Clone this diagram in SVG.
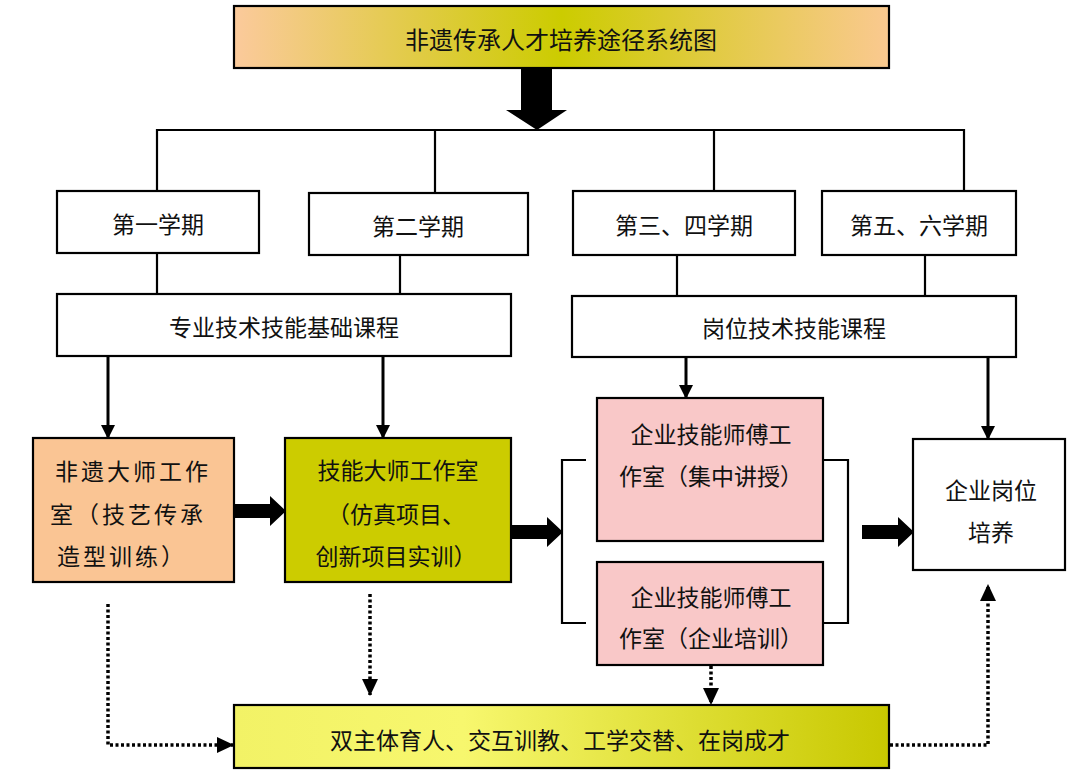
<svg xmlns="http://www.w3.org/2000/svg" width="1080" height="778" viewBox="0 0 1080 778">
<defs>
<linearGradient id="gTitle" x1="0" y1="0" x2="1" y2="0">
<stop offset="0" stop-color="#FBCA9C"/>
<stop offset="0.5" stop-color="#CCCC00"/>
<stop offset="1" stop-color="#FAC990"/>
</linearGradient>
<linearGradient id="gBottom" x1="0" y1="0" x2="1" y2="0">
<stop offset="0" stop-color="#F2F266"/>
<stop offset="0.35" stop-color="#F7F76E"/>
<stop offset="1" stop-color="#C8C800"/>
</linearGradient>
<marker id="ah" viewBox="0 0 14 14" refX="13" refY="7" markerWidth="14" markerHeight="14" markerUnits="userSpaceOnUse" orient="auto">
<path d="M0,0 L14,7 L0,14 z" fill="#000"/>
</marker>
<marker id="ahd" viewBox="0 0 17 16" refX="16" refY="8" markerWidth="17" markerHeight="16" markerUnits="userSpaceOnUse" orient="auto">
<path d="M0,0 L17,8 L0,16 z" fill="#000"/>
</marker>
</defs>
<style>
.box{stroke:#000;stroke-width:2.2}
.w{fill:#fff}
.peach{fill:#FAC594}
.olive{fill:#CCCC00}
.pink{fill:#F9C8C8}
.t{font-family:"Noto Sans CJK SC","Noto Sans",sans-serif;font-size:23px;fill:#111;text-anchor:middle;dominant-baseline:central}
.ln{fill:none;stroke:#000;stroke-width:2.2}
.arr{fill:none;stroke:#000;stroke-width:3;marker-end:url(#ah)}
.dot{fill:none;stroke:#000;stroke-width:3.5;stroke-dasharray:3 2.5;marker-end:url(#ahd)}
.big{fill:#000}
</style>
<rect width="1080" height="778" fill="#fff"/>

<g id="connectors">
<path class="ln" d="M157,191 V130 H964 V191 M435,130 V193 M714,130 V191"/>
<polygon class="big" points="521,68 552,68 552,110 567,110 537,130 506,110 521,110"/>
<path class="ln" d="M157,253 V296 M400,255 V296 M677,255 V296 M925,255 V296"/>
<path class="arr" d="M108,356 V438"/>
<path class="arr" d="M383,356 V438"/>
<path class="arr" d="M686,357 V398"/>
<path class="arr" d="M988,357 V439"/>
<polygon class="big" points="234,504 270,504 270,496 286,511 270,526 270,518 234,518"/>
<polygon class="big" points="511,525 547,525 547,517 563,532 547,547 547,539 511,539"/>
<polygon class="big" points="862,525 898,525 898,517 914,532 898,547 898,539 862,539"/>
<path class="ln" d="M586,460 H562 V623 H586"/>
<path class="ln" d="M823,460 H848 V623 H823"/>
<path class="dot" d="M108,604 V745 H233"/>
<path class="dot" d="M370,594 V695"/>
<path class="dot" d="M711,666 V704"/>
<path class="dot" d="M890,745 H988 V585"/>
</g>

<g id="title">
<rect class="box" x="234" y="6" width="655" height="62" fill="url(#gTitle)"/>
<text class="t" x="561" y="38" style="font-size:24px">非遗传承人才培养途径系统图</text>
</g>
<g id="sem1">
<rect class="box w" x="57" y="191" width="202" height="62"/>
<text class="t" x="158" y="223">第一学期</text>
</g>
<g id="sem2">
<rect class="box w" x="309" y="193" width="219" height="62"/>
<text class="t" x="418" y="225">第二学期</text>
</g>
<g id="sem34">
<rect class="box w" x="573" y="191" width="222" height="64"/>
<text class="t" x="684" y="224">第三、四学期</text>
</g>
<g id="sem56">
<rect class="box w" x="822" y="191" width="194" height="64"/>
<text class="t" x="919" y="224">第五、六学期</text>
</g>
<g id="basic">
<rect class="box w" x="57" y="294" width="454" height="62"/>
<text class="t" x="284" y="326">专业技术技能基础课程</text>
</g>
<g id="post">
<rect class="box w" x="572" y="296" width="444" height="61"/>
<text class="t" x="794" y="327">岗位技术技能课程</text>
</g>
<g id="feiyi">
<rect class="box peach" x="33" y="438" width="201" height="144"/>
<text class="t" x="133" y="470" letter-spacing="3">非遗大师工作</text>
<text class="t" x="128" y="513" letter-spacing="3">室（技艺传承</text>
<text class="t" x="122" y="555" letter-spacing="3">造型训练）</text>
</g>
<g id="jineng">
<rect class="box olive" x="285" y="438" width="226" height="144"/>
<text class="t" x="398" y="469">技能大师工作室</text>
<text class="t" x="396" y="513">（仿真项目、</text>
<text class="t" x="396" y="555">创新项目实训）</text>
</g>
<g id="qiye1">
<rect class="box pink" x="597" y="398" width="226" height="143"/>
<text class="t" x="711" y="433">企业技能师傅工</text>
<text class="t" x="711" y="475">作室（集中讲授）</text>
</g>
<g id="qiye2">
<rect class="box pink" x="597" y="562" width="226" height="103"/>
<text class="t" x="711" y="596">企业技能师傅工</text>
<text class="t" x="711" y="637">作室（企业培训）</text>
</g>
<g id="gangwei">
<rect class="box w" x="913" y="439" width="152" height="131"/>
<text class="t" x="991" y="489">企业岗位</text>
<text class="t" x="991" y="531">培养</text>
</g>
<g id="bottom">
<rect class="box" x="234" y="705" width="655" height="63" fill="url(#gBottom)"/>
<text class="t" x="560" y="739">双主体育人、交互训教、工学交替、在岗成才</text>
</g>
</svg>
